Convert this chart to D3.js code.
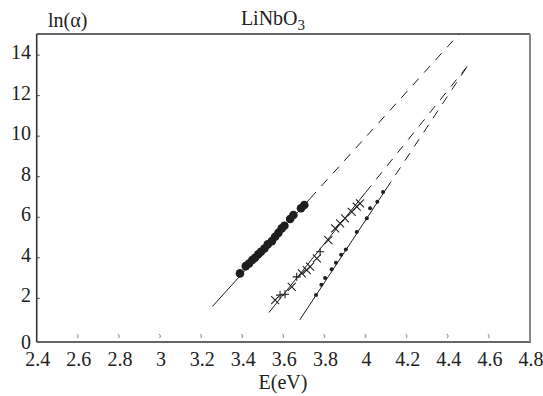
<!DOCTYPE html>
<html><head><meta charset="utf-8">
<script src="https://cdn.jsdelivr.net/npm/d3@7"></script>
<style>html,body{margin:0;padding:0;background:#fff;}svg{display:block;font-family:"Liberation Serif","Times New Roman",serif;}</style>
</head><body>
<svg id="chart" width="543" height="396"></svg>
<script>
// ---- data ----
const xTicks = [2.4, 2.6, 2.8, 3, 3.2, 3.4, 3.6, 3.8, 4, 4.2, 4.4, 4.6, 4.8];
const yTicks = [0, 2, 4, 6, 8, 10, 12, 14];
const xLabel = "E(eV)";
const yLabel = "ln(α)";

// series 1: large filled circles
const s1E  = [3.389, 3.417, 3.433, 3.449, 3.462, 3.478, 3.491, 3.508, 3.524, 3.544, 3.56, 3.576, 3.592, 3.605, 3.633, 3.649, 3.686, 3.702];
const s1Ln = [3.23, 3.59, 3.72, 3.89, 4.0, 4.17, 4.3, 4.46, 4.66, 4.82, 5.04, 5.23, 5.45, 5.58, 5.91, 6.11, 6.44, 6.6];

// series 2: crosses (p = "+", x = "×")
const s2E    = [3.56, 3.584, 3.608, 3.641, 3.665, 3.69, 3.714, 3.73, 3.763, 3.779, 3.819, 3.852, 3.876, 3.9, 3.933, 3.957, 3.973];
const s2Ln   = [1.91, 2.16, 2.2, 2.57, 3.06, 3.23, 3.39, 3.56, 3.97, 4.3, 4.87, 5.45, 5.7, 5.94, 6.27, 6.52, 6.68];
const s2Type = ["x", "p", "p", "x", "p", "x", "x", "x", "x", "p", "x", "x", "x", "x", "x", "x", "x"];

// series 3: small dots
const s3E  = [3.759, 3.785, 3.803, 3.835, 3.856, 3.881, 3.904, 3.957, 4.006, 4.022, 4.057, 4.085];
const s3Ln = [2.16, 2.67, 3.0, 3.44, 3.76, 4.15, 4.41, 5.27, 5.95, 6.44, 6.76, 7.25];

// fitted lines: start, end of solid part, end of dashed extrapolation
const fitStartE = [3.255, 3.53, 3.68];
const fitStartLn = [1.6, 1.3, 0.94];
const fitSolidE = [3.73, 4.0, 4.1];
const fitSolidLn = [6.92, 7.22, 7.39];
const fitEndE = [4.455, 4.51, 4.505];
const fitEndLn = [15.04, 13.64, 13.6];

// ---- drawing ----
const svg = d3.select("#chart");
const L = 36.7, R = 530, T = 34, B = 342;
const x = d3.scaleLinear().domain([2.4, 4.8]).range([L, R]);
const y = d3.scaleLinear().domain([-0.155, 15.04]).range([B, T]);
const ink = "#1e1e1e";
const fs = 20;

// frame
svg.append("line").attr("x1", L).attr("x2", R).attr("y1", T).attr("y2", T).attr("stroke", "#333").attr("stroke-width", 1.6);
svg.append("line").attr("x1", L).attr("x2", L).attr("y1", T).attr("y2", B).attr("stroke", "#333").attr("stroke-width", 1.6);
svg.append("line").attr("x1", L).attr("x2", R + 1).attr("y1", B).attr("y2", B).attr("stroke", "#333").attr("stroke-width", 1.6);
svg.append("line").attr("x1", R).attr("x2", R).attr("y1", T).attr("y2", B).attr("stroke", "#888").attr("stroke-width", 2);

// y ticks (inside) and labels
const yAxis = svg.append("g");
yAxis.selectAll("line").data(yTicks.filter(d => d > 0)).join("line")
  .attr("x1", L).attr("x2", L + 3).attr("y1", d => y(d)).attr("y2", d => y(d))
  .attr("stroke", "#444").attr("stroke-width", 1);
yAxis.selectAll("text").data(yTicks).join("text")
  .attr("x", 31).attr("y", d => d === 0 ? y(d) + 3 : y(d) - 3)
  .attr("dy", "0.35em").attr("text-anchor", "end")
  .attr("font-size", fs).attr("fill", "#222").text(d => d);

// x ticks (small floating marks) and labels
const xAxis = svg.append("g");
xAxis.selectAll("path").data(xTicks.filter(d => d > 2.4 && d < 4.8)).join("path")
  .attr("d", d => `M${x(d) - 1},${B - 8}L${x(d) + 0.6},${B - 6}L${x(d) - 0.6},${B - 4}`)
  .attr("fill", "none").attr("stroke", "#777").attr("stroke-width", 0.9);
xAxis.selectAll("text").data(xTicks).join("text")
  .attr("x", d => x(d) + 1).attr("y", 366).attr("text-anchor", "middle")
  .attr("font-size", fs).attr("fill", "#222").text(d => d);

// axis titles
svg.append("text").attr("x", 283).attr("y", 389).attr("text-anchor", "middle")
  .attr("font-size", fs).attr("fill", "#222").text(xLabel);
svg.append("text").attr("x", 48).attr("y", 27).attr("font-size", fs).attr("fill", "#222").text(yLabel);
const title = svg.append("text").attr("x", 273).attr("y", 25).attr("text-anchor", "middle")
  .attr("font-size", fs).attr("fill", "#222");
title.append("tspan").text("LiNbO");
title.append("tspan").attr("font-size", 15).attr("dy", 5).text("3");

// fitted lines
const fits = d3.range(fitStartE.length);
svg.append("g").selectAll("line").data(fits).join("line")
  .attr("x1", i => x(fitStartE[i])).attr("y1", i => y(fitStartLn[i]))
  .attr("x2", i => x(fitSolidE[i])).attr("y2", i => y(fitSolidLn[i]))
  .attr("stroke", ink).attr("stroke-width", 1);
svg.append("g").selectAll("line").data(fits).join("line")
  .attr("x1", i => x(fitSolidE[i])).attr("y1", i => y(fitSolidLn[i]))
  .attr("x2", i => x(fitEndE[i])).attr("y2", i => y(fitEndLn[i]))
  .attr("stroke", ink).attr("stroke-width", 1).attr("stroke-dasharray", "9,8");

// series 1
svg.append("g").selectAll("circle").data(s1E).join("circle")
  .attr("cx", d => x(d)).attr("cy", (d, i) => y(s1Ln[i])).attr("r", 4.3).attr("fill", ink);

// series 2
const c = 4;
const g2 = svg.append("g").attr("stroke", "#222").attr("stroke-width", 1.1).attr("fill", "none");
g2.selectAll("path").data(s2E).join("path")
  .attr("d", (d, i) => {
    const px = x(d), py = y(s2Ln[i]);
    return s2Type[i] === "p"
      ? `M${px - c},${py}H${px + c}M${px},${py - c}V${py + c}`
      : `M${px - c},${py - c}L${px + c},${py + c}M${px - c},${py + c}L${px + c},${py - c}`;
  });

// series 3
svg.append("g").selectAll("circle").data(s3E).join("circle")
  .attr("cx", d => x(d)).attr("cy", (d, i) => y(s3Ln[i])).attr("r", 2).attr("fill", ink);
</script>
</body></html>
